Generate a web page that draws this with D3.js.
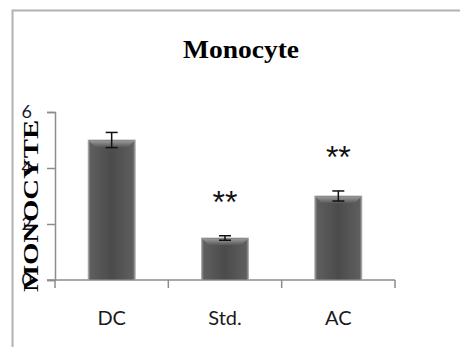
<!DOCTYPE html>
<html>
<head>
<meta charset="utf-8">
<script src="https://cdn.jsdelivr.net/npm/d3@7"></script>
<style>
  html, body { margin: 0; padding: 0; background: #fff; }
  svg { display: block; }
</style>
</head>
<body>
<svg id="chart" width="460" height="347"></svg>
<script>
// Monocyte counts per group, with error bars and significance marks
const categories = ["DC", "Std.", "AC"];
const values = [5.0, 1.5, 3.0];
const errors = [0.27, 0.08, 0.18];
const significance = ["", "**", "**"];
const yTicks = [0, 2, 4, 6];

const svg = d3.select("#chart");

// outer frame
svg.append("path")
  .attr("d", "M12.5,347 L12.5,10.5 L460,10.5")
  .attr("fill", "none")
  .attr("stroke", "#b2b2b2")
  .attr("stroke-width", 2);

const x = d3.scaleBand()
  .domain(categories)
  .range([55, 395])
  .paddingInner(0.585)
  .paddingOuter(0.2925);

const y = d3.scaleLinear().domain([0, 6]).range([280, 112]);

const defs = svg.append("defs");
const side = defs.append("linearGradient").attr("id", "barSide")
  .attr("x1", 0).attr("x2", 1).attr("y1", 0).attr("y2", 0);
[["0%", "#9a9a9a"], ["5%", "#5e5e5e"], ["50%", "#4b4b4b"], ["95%", "#5e5e5e"], ["100%", "#9a9a9a"]]
  .forEach(([o, c]) => side.append("stop").attr("offset", o).attr("stop-color", c));
const bevel = defs.append("linearGradient").attr("id", "barTop")
  .attr("x1", 0).attr("x2", 0).attr("y1", 0).attr("y2", 1);
[["0%", "#9c9c9c"], ["100%", "#5a5a5a"]]
  .forEach(([o, c]) => bevel.append("stop").attr("offset", o).attr("stop-color", c));

// y axis
const yAxis = svg.append("g")
  .attr("transform", "translate(55,0)")
  .call(d3.axisLeft(y).tickValues(yTicks).tickSize(8).tickPadding(15).tickFormat(d3.format("d")));
yAxis.select(".domain").attr("stroke", "#8c8c8c").attr("stroke-width", 1.5);
yAxis.selectAll(".tick line").attr("stroke", "#8c8c8c").attr("stroke-width", 1.5);
yAxis.selectAll(".tick text")
  .attr("font-family", "Lato, 'Open Sans', sans-serif")
  .attr("font-size", 18)
  .attr("fill", "#1a1a33");

// x axis with ticks at category boundaries
const xAxisG = svg.append("g").attr("transform", "translate(0,280)");
xAxisG.append("line")
  .attr("x1", 47).attr("x2", 395).attr("y1", 0).attr("y2", 0)
  .attr("stroke", "#8c8c8c").attr("stroke-width", 1.5);
const bounds = [x.range()[0]].concat(categories.map(c => x(c) + x.bandwidth() / 2 + x.step() / 2));
xAxisG.selectAll("line.b").data(bounds).join("line")
  .attr("class", "b")
  .attr("x1", d => d).attr("x2", d => d)
  .attr("y1", 0).attr("y2", 8)
  .attr("stroke", "#8c8c8c").attr("stroke-width", 1.5);
xAxisG.selectAll("text").data(categories).join("text")
  .attr("x", d => x(d) + x.bandwidth() / 2)
  .attr("y", 45)
  .attr("text-anchor", "middle")
  .attr("font-family", "Lato, 'Open Sans', sans-serif")
  .attr("font-size", 20)
  .attr("fill", "#1a1a1a")
  .text(d => d);

// bars
const bars = svg.append("g").selectAll("g").data(categories).join("g");
bars.append("rect")
  .attr("x", d => x(d))
  .attr("y", (d, i) => y(values[i]))
  .attr("width", x.bandwidth())
  .attr("height", (d, i) => y(0) - y(values[i]))
  .attr("fill", "url(#barSide)")
  .attr("stroke", "#a5a5a5")
  .attr("stroke-width", 0.8);
bars.append("path")
  .attr("d", (d, i) => {
    const x0 = x(d), x1 = x(d) + x.bandwidth(), t = y(values[i]);
    return `M${x0 + 0.5},${t + 0.5} L${x1 - 0.5},${t + 0.5} L${x1 - 7},${t + 7} L${x0 + 7},${t + 7} Z`;
  })
  .attr("fill", "url(#barTop)");

// error bars
const err = svg.append("g").attr("stroke", "#111").attr("stroke-width", 1.5);
categories.forEach((c, i) => {
  const cx = x(c) + x.bandwidth() / 2;
  const hi = y(values[i] + errors[i]), lo = y(values[i] - errors[i]);
  err.append("line").attr("x1", cx).attr("x2", cx).attr("y1", hi).attr("y2", lo);
  err.append("line").attr("x1", cx - 6).attr("x2", cx + 6).attr("y1", hi).attr("y2", hi);
  err.append("line").attr("x1", cx - 6).attr("x2", cx + 6).attr("y1", lo).attr("y2", lo);
});

// significance marks above the error bars
svg.append("g").selectAll("text").data(categories).join("text")
  .attr("x", d => x(d) + x.bandwidth() / 2)
  .attr("y", (d, i) => y(values[i] + errors[i]) - 23)
  .attr("text-anchor", "middle")
  .attr("font-family", "'Liberation Sans', Arial, sans-serif")
  .attr("font-size", 32)
  .attr("fill", "#111")
  .text((d, i) => significance[i]);

// y axis title
svg.append("text")
  .attr("transform", "translate(38,206) rotate(-90)")
  .attr("text-anchor", "middle")
  .attr("font-family", "'Liberation Serif', 'Times New Roman', serif")
  .attr("font-weight", "bold")
  .attr("font-size", 21)
  .attr("textLength", 172)
  .attr("lengthAdjust", "spacingAndGlyphs")
  .attr("fill", "#000")
  .text("MONOCYTE");

// chart title
svg.append("text")
  .attr("x", 241)
  .attr("y", 58)
  .attr("text-anchor", "middle")
  .attr("font-family", "'Liberation Serif', 'Times New Roman', serif")
  .attr("font-weight", "bold")
  .attr("font-size", 25)
  .attr("textLength", 116)
  .attr("lengthAdjust", "spacingAndGlyphs")
  .attr("fill", "#000")
  .text("Monocyte");
</script>
</body>
</html>
